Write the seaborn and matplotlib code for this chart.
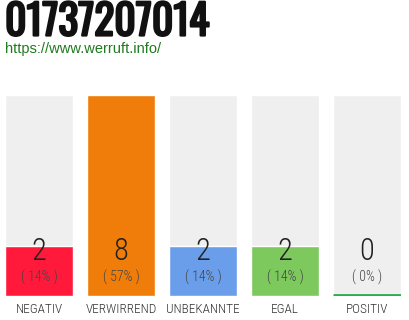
import matplotlib
matplotlib.use("Agg")
import matplotlib.pyplot as plt
import matplotlib.transforms as mtransforms
import matplotlib.patheffects as pe
import seaborn as sns
import pandas as pd

categories = ["NEGATIV", "VERWIRREND", "UNBEKANNTE", "EGAL", "POSITIV"]
values = [2, 8, 2, 2, 0]
percents = ["( 14% )", "( 57% )", "( 14% )", "( 14% )", "( 0% )"]
colors = ["#FF1A3C", "#F07D0A", "#6A9EEA", "#7DC95E", "#2AB04A"]
title = "01737207014"
url = "https://www.werruft.info/"

sns.set_theme(style="white")
cond = ["Roboto Condensed", "DejaVu Sans"]

fig = plt.figure(figsize=(4.1, 3.2), dpi=100)
ax = fig.add_axes([5 / 410, 24 / 320, 396 / 410, 201 / 320])

df = pd.DataFrame({"cat": categories, "val": values, "bg": [max(values)] * len(values)})
w = 68 / 82
sns.barplot(data=df, x="cat", y="bg", color="#EFEFEF", width=w, saturation=1, ax=ax)
sns.barplot(data=df, x="cat", y="val", hue="cat", palette=colors, width=w,
            saturation=1, legend=False, ax=ax)
for i, v in enumerate(values):
    if v == 0:
        ax.hlines(0.03, i - w / 2, i + w / 2, color=colors[i], lw=2)

ax.set_xlim(-w / 2, len(values) - 1 + w / 2)
ax.set_ylim(0, max(values))
ax.set_xlabel("")
ax.set_ylabel("")
ax.set_yticks([])
ax.tick_params(axis="x", length=0, pad=5)
ax.set_xticks(range(len(categories)))
ax.set_xticklabels(categories, fontsize=9.5, color="#333333", family=cond, fontweight=300)
for s in ax.spines.values():
    s.set_visible(False)

trans = mtransforms.blended_transform_factory(ax.transData, ax.transAxes)
for i, (v, p) in enumerate(zip(values, percents)):
    ax.text(i, 0.219, str(v), transform=trans, ha="center", va="center",
            fontsize=22, color="#222222", family=cond, fontweight=300)
    ax.text(i, 0.095, p, transform=trans, ha="center", va="center",
            fontsize=10, color="#444444", family=cond, fontweight=300)

fig.text(5 / 410, 1 - 22 / 320, title, fontsize=30, fontweight="bold",
         family=["Oswald", "DejaVu Sans"], color="#111111", va="center", ha="left",
         path_effects=[pe.withStroke(linewidth=1.6, foreground="#111111")])
fig.text(5 / 410, 1 - 49 / 320, url, fontsize=10.5, family=["Liberation Sans", "DejaVu Sans"],
         color="#1E7B1E", va="center", ha="left")

fig.savefig("out.png", dpi=100)
